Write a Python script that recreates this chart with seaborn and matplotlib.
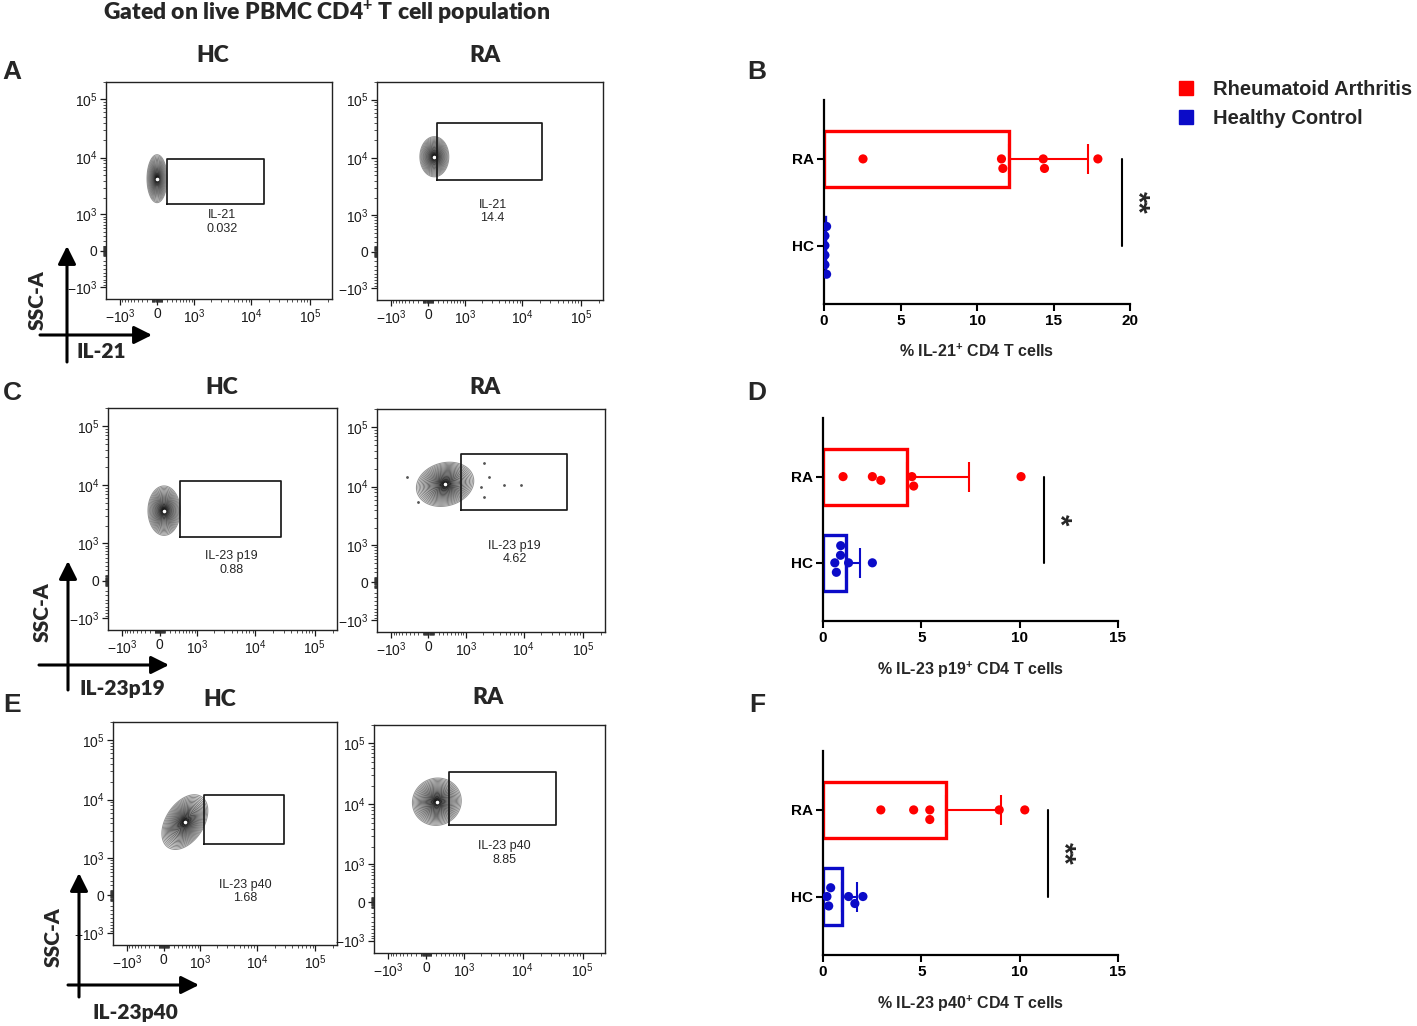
import numpy as np
import pandas as pd
import matplotlib
matplotlib.use("Agg")
import matplotlib.pyplot as plt
import seaborn as sns
from matplotlib.lines import Line2D

# ------------------------------------------------------------------ data
groups = ["RA", "HC"]

il21_ra = [2.55, 11.60, 11.69, 14.33, 14.41, 17.90]
il21_hc = [0.06, 0.06, 0.17, 0.06, 0.17, 0.06]
p19_ra = [1.02, 2.51, 2.94, 4.52, 4.61, 10.07]
p19_hc = [0.90, 0.68, 1.30, 2.51, 0.89, 0.60]
p40_ra = [2.94, 4.61, 5.43, 5.43, 8.96, 10.26]
p40_hc = [0.29, 0.39, 0.20, 1.30, 2.03, 1.62]

bar_xlabels = [r"% IL-21$^{\mathbf{+}}$ CD4 T cells",
               r"% IL-23 p19$^{\mathbf{+}}$ CD4 T cells",
               r"% IL-23 p40$^{\mathbf{+}}$ CD4 T cells"]
bar_xmax = [20, 15, 15]
bar_xticks = [[0, 5, 10, 15, 20], [0, 5, 10, 15], [0, 5, 10, 15]]
sig_labels = ["**", "*", "**"]
sig_x = [19.46, 11.23, 11.43]

legend_labels = ["Rheumatoid Arthritis", "Healthy Control"]

# flow cytometry panels (order: A-HC, A-RA, C-HC, C-RA, E-HC, E-RA)
flow_titles = ["HC", "RA", "HC", "RA", "HC", "RA"]
gate_names = ["IL-21", "IL-21", "IL-23 p19", "IL-23 p19", "IL-23 p40", "IL-23 p40"]
gate_freqs = ["0.032", "14.4", "0.88", "4.62", "1.68", "8.85"]
gate_x0 = [195, 184, 435, 825, 1183, 500]
gate_x1 = [16400, 21300, 26800, 54700, 29300, 36400]
gate_y0 = [1550, 4130, 1290, 4010, 1780, 4600]
gate_y1 = [9590, 39200, 11830, 35800, 12030, 33650]
pop_x = [0, 124, 84, 343, 469, 209]
pop_y = [4310, 10460, 3725, 10930, 4190, 11050]
# sparse events outside the main population (panel C, RA)
event_x = [2147, 2620, 1880, 4620, 9090, 2090, -462, -212]
event_y = [24450, 14560, 9900, 10550, 10550, 6720, 14560, 5550]

flow_tick_vals = [-1e3, 0, 1e3, 1e4, 1e5]
flow_tick_labels = [r"$-10^3$", "0", r"$10^3$", r"$10^4$", r"$10^5$"]
channel_labels = ["IL-21", "IL-23p19", "IL-23p40"]

# ------------------------------------------------------------------ style
sns.set_theme(style="white")
plt.rcParams["font.family"] = ["Liberation Sans", "DejaVu Sans"]
plt.rcParams["mathtext.fontset"] = "custom"
plt.rcParams["mathtext.rm"] = "Liberation Sans"
plt.rcParams["mathtext.bf"] = "Liberation Sans:bold"
plt.rcParams["mathtext.it"] = "Liberation Sans:italic"

RED = "#FF0000"
BLUE = "#0B0BC8"
pal = {"RA": RED, "HC": BLUE}
NARROW = ["Liberation Sans Narrow", "Liberation Sans"]
HEAD = ["Lato", "Liberation Sans"]

W, H = 1417, 1026
fig = plt.figure(figsize=(W / 100, H / 100), dpi=100)
fig.patch.set_facecolor("white")


def rect(l, t, r, b):
    return [l / W, 1 - b / H, (r - l) / W, (b - t) / H]


# biexponential-like display transform
C_BIEX, K_BIEX = 497.0, 1.45


def fwd(v):
    return np.arcsinh(np.asarray(v, dtype=float) / C_BIEX) / K_BIEX


def inv(u):
    return C_BIEX * np.sinh(K_BIEX * np.asarray(u, dtype=float))


U_LIM = (-1.38, 4.73)
V_LIM = (-1.32, 4.54)

flow_boxes = [(106, 82, 332, 299), (377, 82, 603, 300),
              (108, 408, 337, 630), (377, 409, 605, 632),
              (113, 722, 337, 945), (374, 725, 605, 953)]
# population shape (transformed units): sigma along a/b axes, angle
pop_sa = [0.104, 0.150, 0.165, 0.300, 0.313, 0.250]
pop_sb = [0.252, 0.210, 0.254, 0.220, 0.196, 0.235]
pop_ang = [0, 0, 0, 15, 55, 20]
label_pos = [(0.513, 0.355), (0.512, 0.405), (0.54, 0.302),
             (0.603, 0.356), (0.59, 0.241), (0.563, 0.438)]

minor = []
for m in range(1, 10):
    for s in (-1, 1):
        minor += [s * m * 10, s * m * 100]
for m in range(2, 10):
    minor += [m * 1e3, m * 1e4]
minor += [2e5]

uu = np.linspace(U_LIM[0], U_LIM[1], 500)
vv = np.linspace(V_LIM[0], V_LIM[1], 500)
UU, VV = np.meshgrid(uu, vv)
rr = 2.6 * np.linspace(0.03, 1, 30) ** 1.5
levels = np.sort(np.exp(-0.5 * rr ** 2))
lcolors = plt.cm.Greys(np.linspace(0.5, 1.0, len(levels)))

for i in range(6):
    ax = fig.add_axes(rect(*flow_boxes[i]))
    ax.set_facecolor("white")
    ax.set_xscale("function", functions=(fwd, inv))
    ax.set_yscale("function", functions=(fwd, inv))
    cu, cv = fwd(pop_x[i]), fwd(pop_y[i])
    th = np.deg2rad(pop_ang[i])
    du, dv = UU - cu, VV - cv
    a = (du * np.cos(th) + dv * np.sin(th)) / pop_sa[i]
    b = (-du * np.sin(th) + dv * np.cos(th)) / pop_sb[i]
    Z = np.exp(-0.5 * (a * a + b * b))
    ax.contour(inv(UU), inv(VV), Z, levels=levels, colors=lcolors,
               linewidths=0.75)
    ax.plot(pop_x[i], pop_y[i], "o", color="white", ms=1.6, zorder=5)
    if i == 3:
        ax.scatter(event_x, event_y, s=1.0, color="#555555", zorder=4)
    gx = [gate_x0[i], gate_x1[i], gate_x1[i], gate_x0[i], gate_x0[i]]
    gy = [gate_y0[i], gate_y0[i], gate_y1[i], gate_y1[i], gate_y0[i]]
    ax.plot(gx, gy, color="#1a1a1a", lw=1.25, zorder=6)
    lx, ly = label_pos[i]
    ax.text(lx, ly, f"{gate_names[i]}\n{gate_freqs[i]}", transform=ax.transAxes,
            ha="center", va="center", fontsize=9, color="#262626",
            linespacing=1.15)
    ax.set_xlim(inv(U_LIM[0]), inv(U_LIM[1]))
    ax.set_ylim(inv(V_LIM[0]), inv(V_LIM[1]))
    for axis in (ax.xaxis, ax.yaxis):
        axis.set_ticks(flow_tick_vals)
        axis.set_ticklabels(flow_tick_labels)
        axis.set_ticks(minor, minor=True)
    ax.tick_params(which="major", direction="out", length=4, width=0.9,
                   labelsize=10, pad=2, colors="#1a1a1a",
                   bottom=True, left=True)
    ax.tick_params(which="minor", direction="out", length=2, width=0.6,
                   bottom=True, left=True, colors="#333333")
    for sp in ax.spines.values():
        sp.set_visible(True)
        sp.set_color("#222222")
        sp.set_linewidth(1.0)

# ------------------------------------------------------------------ bar panels
bar_boxes = [(824, 100, 1130, 304), (823, 418, 1118, 621), (823, 751, 1118, 955)]
bar_data = [(il21_ra, il21_hc), (p19_ra, p19_hc), (p40_ra, p40_hc)]

for k in range(3):
    ax = fig.add_axes(rect(*bar_boxes[k]))
    ax.set_facecolor("none")
    ra, hc = bar_data[k]
    df = pd.DataFrame({"group": ["RA"] * len(ra) + ["HC"] * len(hc),
                       "value": ra + hc})
    sns.barplot(data=df, x="value", y="group", hue="group", order=groups,
                hue_order=groups, palette=pal, fill=False, errorbar=None,
                width=0.65, linewidth=2.4, legend=False, ax=ax)
    stats = df.groupby("group")["value"].agg(["mean", "std"])
    for j, g in enumerate(groups):
        ax.errorbar(stats.loc[g, "mean"], j, xerr=[[0], [stats.loc[g, "std"]]],
                    color=pal[g], capsize=10.5, elinewidth=1.5, capthick=1.5,
                    zorder=4)
    sns.swarmplot(data=df, x="value", y="group", hue="group", order=groups,
                  hue_order=groups, palette=pal, size=6.6, legend=False,
                  ax=ax, zorder=5)
    ax.plot([sig_x[k], sig_x[k]], [0, 1], color="black", lw=1.5, clip_on=False)
    ax.text(sig_x[k] + (1.0 if k == 0 else 0.75), 0.5, sig_labels[k],
            rotation=-90, ha="center", va="center", fontsize=21,
            fontweight="bold", clip_on=False)
    ax.set_xlim(0, bar_xmax[k])
    ax.set_ylim(1.675, -0.68)
    ax.set_xticks(bar_xticks[k])
    ax.set_ylabel("")
    ax.set_xlabel(bar_xlabels[k], fontsize=11.5, fontweight="bold",
                  labelpad=11, family=NARROW)
    sns.despine(ax=ax)
    for sp in ("left", "bottom"):
        ax.spines[sp].set_linewidth(1.6)
        ax.spines[sp].set_color("black")
    ax.tick_params(direction="out", length=5, width=1.5, labelsize=11,
                   bottom=True, left=True, pad=2, colors="black")
    for lab in ax.get_xticklabels() + ax.get_yticklabels():
        lab.set_fontweight("bold")
        lab.set_family(NARROW)

handles = [Line2D([], [], marker="s", ls="", color=RED, markersize=10.5),
           Line2D([], [], marker="s", ls="", color=BLUE, markersize=10.5)]
fig.legend(handles, legend_labels, loc="upper left",
           bbox_to_anchor=(1176 / W, 1 - 80 / H), frameon=False,
           prop=dict(family=NARROW, weight="bold", size=14.5),
           handlelength=1.0, handletextpad=0.85, labelspacing=0.5,
           borderpad=0, borderaxespad=0)

# ------------------------------------------------------------------ overlay text
ov = fig.add_axes([0, 0, 1, 1], zorder=10)
ov.set_xlim(0, W)
ov.set_ylim(H, 0)
ov.axis("off")
ov.patch.set_alpha(0)

ov.text(327, 12, r"Gated on live PBMC CD4$^{\mathbf{+}}$ T cell population",
        ha="center", va="center", fontsize=16.5, fontweight="heavy", family=HEAD)
head_xy = [(213, 55), (485, 55), (222, 387), (485, 387), (220, 700), (488, 697)]
for (x, y), t in zip(head_xy, flow_titles):
    ov.text(x, y, t, ha="center", va="center", fontsize=16.5,
            fontweight="heavy", family=HEAD)
for (x, y), t in zip([(12, 72), (757, 72), (12, 393), (757, 393), (12, 705), (757, 705)],
                     "ABCDEF"):
    ov.text(x, y, t, ha="center", va="center", fontsize=19, fontweight="bold")

arrows = [((67, 362), (67, 246), (40, 335), (152, 335)),
          ((68, 690), (68, 561), (39, 665), (169, 665)),
          ((79, 997), (79, 873), (68, 985), (199, 985))]
ssc_xy = [(37, 300), (42, 612), (53, 937)]
chan_xy = [(101, 352), (122, 688), (135, 1013)]
for (vt, vh, ht, hh), sxy, cxy, cl in zip(arrows, ssc_xy, chan_xy, channel_labels):
    for tail, head in ((vt, vh), (ht, hh)):
        ov.annotate("", xy=head, xytext=tail,
                    arrowprops=dict(arrowstyle="-|>,head_length=0.9,head_width=0.45",
                                    lw=2.2, color="black", shrinkA=0, shrinkB=0))
    ov.text(*sxy, "SSC-A", rotation=90, ha="center", va="center", fontsize=15,
            fontweight="heavy", family=HEAD)
    ov.text(*cxy, cl, ha="center", va="center", fontsize=15, fontweight="heavy",
            family=HEAD)

fig.savefig("out.png", dpi=100, facecolor="white")
